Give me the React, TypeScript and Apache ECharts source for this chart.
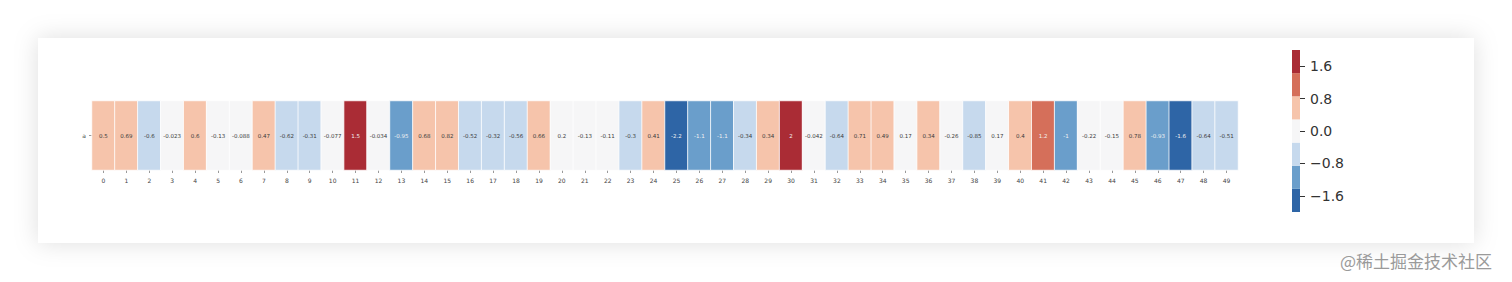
import React, { useEffect, useRef } from "react";
import * as echarts from "echarts";

const categories = Array.from({ length: 50 }, (_, i) => String(i));
const rowLabels = ["a"];
const values = [
  0.5, 0.69, -0.6, -0.023, 0.6, -0.13, -0.088, 0.47, -0.62, -0.31,
  -0.077, 1.5, -0.034, -0.95, 0.68, 0.82, -0.52, -0.32, -0.56, 0.66,
  0.2, -0.13, -0.11, -0.3, 0.41, -2.2, -1.1, -1.1, -0.34, 0.34,
  2, -0.042, -0.64, 0.71, 0.49, 0.17, 0.34, -0.26, -0.85, 0.17,
  0.4, 1.2, -1, -0.22, -0.15, 0.78, -0.93, -1.6, -0.64, -0.51,
];
const binEdges = [-2, -1.4286, -0.8571, -0.2857, 0.2857, 0.8571, 1.4286, 2];
const palette = ["#2e65a6", "#6a9ecb", "#c6d9ed", "#f6f6f7", "#f6c4ab", "#d56f5a", "#aa2c35"];
const colorbarTicks = [-1.6, -0.8, 0, 0.8, 1.6];

export default function App() {
  const ref = useRef<HTMLDivElement>(null);
  useEffect(() => {
    if (!ref.current) return;
    const chart = echarts.init(ref.current, null, { renderer: "svg" });
    const pieces = palette.map((c, i) => {
      const p: any = { color: c };
      if (i > 0) p.gte = binEdges[i];
      if (i < palette.length - 1) p.lt = binEdges[i + 1];
      return p;
    });
    const heatData = values.map((v, i) => ({
      value: [i, 0, v],
      label: { color: Math.abs(v) > 0.8571 ? "#f2f2f2" : "#3a3a3a" },
    }));
    const barData = palette.map((c, i) => [binEdges[i], binEdges[i + 1], i]);
    const font = "DejaVu Sans";
    chart.setOption({
      animation: false,
      backgroundColor: "#ffffff",
      graphic: [
        {
          type: "rect",
          z: -10,
          shape: { x: 38, y: 38, width: 1436, height: 205 },
          style: { fill: "#ffffff", shadowBlur: 24, shadowColor: "rgba(0,0,0,0.13)" },
          silent: true,
        },
        {
          type: "text",
          x: 1340,
          y: 260,
          style: {
            text: "@稀土掘金技术社区",
            fill: "#9a9a9a",
            font: "17px 'Noto Sans CJK SC'",
            verticalAlign: "middle",
          },
        },
      ],
      grid: [
        { left: 92, top: 101, width: 1146, height: 69 },
        { left: 1292, top: 50, width: 8, height: 162 },
      ],
      xAxis: [
        {
          type: "category",
          gridIndex: 0,
          data: categories,
          axisLine: { show: false },
          axisTick: { show: true, length: 3, alignWithLabel: true, lineStyle: { color: "#555", width: 0.6 } },
          axisLabel: { fontSize: 6, color: "#444", margin: 7, fontFamily: font, interval: 0 },
          splitArea: { show: false },
        },
        {
          type: "category",
          gridIndex: 1,
          data: [""],
          show: false,
        },
      ],
      yAxis: [
        {
          type: "category",
          gridIndex: 0,
          data: rowLabels,
          axisLine: { show: false },
          axisTick: { show: true, length: 3, alignWithLabel: true, lineStyle: { color: "#555", width: 0.6 } },
          axisLabel: { fontSize: 6, color: "#444", margin: 6, fontFamily: font },
        },
        {
          type: "value",
          gridIndex: 1,
          position: "right",
          min: -2,
          max: 2,
          axisLine: { show: false },
          splitLine: { show: false },
          axisTick: {
            show: true,
            length: 5,
            customValues: colorbarTicks,
            lineStyle: { color: "#333", width: 1 },
          },
          axisLabel: {
            customValues: colorbarTicks,
            fontSize: 14,
            color: "#333",
            margin: 10,
            fontFamily: font,
            formatter: (v: number) => v.toFixed(1).replace("-", "\u2212"),
          },
        },
      ],
      visualMap: {
        type: "piecewise",
        show: false,
        seriesIndex: 0,
        dimension: 2,
        pieces,
      },
      series: [
        {
          type: "heatmap",
          xAxisIndex: 0,
          yAxisIndex: 0,
          data: heatData,
          itemStyle: { borderColor: "#ffffff", borderWidth: 0.8 },
          label: {
            show: true,
            fontSize: 5.5,
            fontFamily: font,
            formatter: (p: any) => String(p.value[2]),
          },
        },
        {
          type: "custom",
          xAxisIndex: 1,
          yAxisIndex: 1,
          data: barData,
          renderItem: (params: any, api: any) => {
            const lo = api.value(0);
            const hi = api.value(1);
            const idx = api.value(2);
            const top = api.coord([0, hi]);
            const bot = api.coord([0, lo]);
            const w = api.size([1, 0])[0];
            return {
              type: "rect",
              shape: { x: top[0] - w / 2, y: top[1], width: w, height: bot[1] - top[1] },
              style: { fill: palette[idx] },
            };
          },
        },
      ],
    });
    return () => chart.dispose();
  }, []);
  return (
    <div
      ref={ref}
      style={{ position: "fixed", left: 0, top: 0, width: 1512, height: 282 }}
    />
  );
}
